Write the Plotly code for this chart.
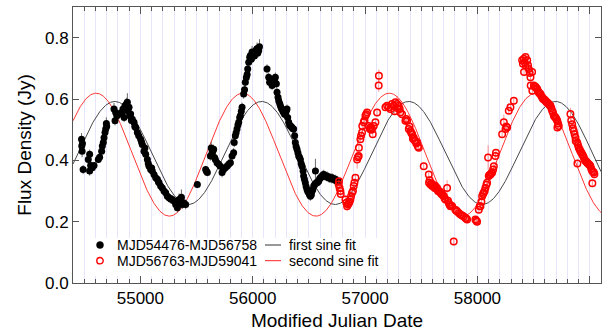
import numpy as np
import plotly.graph_objects as go

# ---- first observing period (MJD54476-MJD56758) ----
p1_mjd = [54476, 54478, 54481, 54484, 54490, 54536, 54548, 54548, 54557, 54572,
          54587, 54625, 54637, 54655, 54661, 54670, 54676, 54685, 54691, 54697,
          54700, 54765, 54774, 54780, 54790, 54810, 54833, 54845, 54855, 54863,
          54875, 54884, 54890, 54899, 54905, 54913, 54920, 54928, 54943, 54950,
          54958, 54973, 54985, 55002, 55010, 55017, 55032, 55040, 55047, 55062,
          55070, 55077, 55091, 55100, 55106, 55121, 55136, 55151, 55160, 55166,
          55180, 55195, 55210, 55225, 55240, 55255, 55269, 55284, 55299, 55314,
          55329, 55335, 55344, 55350, 55365, 55373, 55388, 55403, 55507, 55581,
          55588, 55596, 55623, 55630, 55638, 55645, 55652, 55660, 55667, 55682,
          55697, 55712, 55727, 55741, 55756, 55771, 55786, 55801, 55816, 55830,
          55835, 55845, 55852, 55860, 55868, 55875, 55884, 55890, 55898, 55905,
          55919, 55927, 55934, 55943, 55950, 55955, 55964, 55973, 55979, 55987,
          55994, 56000, 56008, 56015, 56023, 56030, 56038, 56045, 56053, 56060,
          56127, 56142, 56150, 56157, 56165, 56172, 56180, 56186, 56195, 56201,
          56210, 56216, 56225, 56231, 56240, 56246, 56255, 56260, 56268, 56275,
          56283, 56290, 56298, 56305, 56311, 56320, 56328, 56335, 56342, 56349,
          56357, 56364, 56373, 56379, 56386, 56394, 56402, 56409, 56416, 56424,
          56431, 56439, 56448, 56453, 56460, 56468, 56475, 56483, 56490, 56498,
          56505, 56513, 56522, 56528, 56535, 56543, 56550, 56558, 56565, 56573,
          56580, 56587, 56595, 56602, 56610, 56617, 56625, 56632, 56640, 56647,
          56655, 56661, 56669, 56676, 56684, 56691, 56699, 56706, 56714, 56721,
          56729, 56736, 56743, 56751, 56758]
p1_flux = [0.469, 0.447, 0.430, 0.455, 0.370, 0.403, 0.420, 0.365, 0.383, 0.376,
           0.383, 0.403, 0.410, 0.430, 0.447, 0.458, 0.474, 0.491, 0.502, 0.520,
           0.510, 0.567, 0.529, 0.556, 0.545, 0.550, 0.556, 0.567, 0.540, 0.578,
           0.584, 0.589, 0.560, 0.573, 0.545, 0.551, 0.530, 0.534, 0.524, 0.510,
           0.507, 0.491, 0.480, 0.469, 0.460, 0.452, 0.430, 0.440, 0.420, 0.403,
           0.390, 0.381, 0.370, 0.375, 0.365, 0.354, 0.343, 0.338, 0.330, 0.327,
           0.316, 0.310, 0.300, 0.294, 0.283, 0.278, 0.274, 0.272, 0.267, 0.256,
           0.245, 0.260, 0.272, 0.262, 0.280, 0.256, 0.261, 0.256, 0.321, 0.370,
           0.364, 0.360, 0.414, 0.440, 0.425, 0.430, 0.436, 0.409, 0.403, 0.392,
           0.387, 0.381, 0.360, 0.370, 0.376, 0.381, 0.387, 0.392, 0.414, 0.425,
           0.458, 0.480, 0.490, 0.502, 0.515, 0.524, 0.540, 0.545, 0.560, 0.573,
           0.616, 0.630, 0.655, 0.670, 0.680, 0.698, 0.720, 0.736, 0.742, 0.730,
           0.753, 0.745, 0.748, 0.740, 0.753, 0.760, 0.764, 0.750, 0.758, 0.770,
           0.698, 0.671, 0.655, 0.655, 0.660, 0.644, 0.650, 0.655, 0.665, 0.671,
           0.650, 0.622, 0.606, 0.594, 0.585, 0.578, 0.570, 0.567, 0.560, 0.556,
           0.550, 0.550, 0.560, 0.567, 0.540, 0.524, 0.515, 0.512, 0.510, 0.507,
           0.503, 0.502, 0.480, 0.458, 0.445, 0.436, 0.425, 0.414, 0.410, 0.403,
           0.390, 0.381, 0.365, 0.349, 0.338, 0.327, 0.315, 0.305, 0.298, 0.294,
           0.288, 0.283, 0.288, 0.300, 0.305, 0.316, 0.320, 0.365, 0.327, 0.327,
           0.330, 0.332, 0.340, 0.343, 0.345, 0.349, 0.352, 0.354, 0.350, 0.349,
           0.347, 0.349, 0.345, 0.343, 0.342, 0.343, 0.340, 0.343, 0.340, 0.338,
           0.337, 0.338, 0.335, 0.332, 0.332]
p1_err = [0.020, 0.020, 0.020, 0.015, 0.015, 0.015, 0.015, 0.015, 0.012, 0.012,
          0.012, 0.012, 0.012, 0.015, 0.015, 0.015, 0.015, 0.015, 0.015, 0.020,
          0.015, 0.020, 0.015, 0.015, 0.015, 0.015, 0.015, 0.020, 0.015, 0.020,
          0.020, 0.030, 0.015, 0.015, 0.015, 0.015, 0.015, 0.015, 0.015, 0.015,
          0.015, 0.015, 0.015, 0.015, 0.015, 0.015, 0.015, 0.015, 0.015, 0.015,
          0.015, 0.015, 0.015, 0.015, 0.015, 0.015, 0.015, 0.015, 0.015, 0.015,
          0.015, 0.015, 0.015, 0.015, 0.015, 0.015, 0.015, 0.015, 0.015, 0.015,
          0.015, 0.015, 0.020, 0.015, 0.025, 0.015, 0.015, 0.015, 0.012, 0.012,
          0.012, 0.012, 0.015, 0.020, 0.015, 0.015, 0.015, 0.015, 0.015, 0.015,
          0.015, 0.015, 0.015, 0.015, 0.015, 0.015, 0.015, 0.015, 0.015, 0.015,
          0.015, 0.015, 0.015, 0.015, 0.015, 0.015, 0.015, 0.015, 0.015, 0.015,
          0.015, 0.015, 0.015, 0.015, 0.015, 0.015, 0.015, 0.015, 0.020, 0.015,
          0.020, 0.015, 0.015, 0.015, 0.020, 0.015, 0.020, 0.015, 0.020, 0.025,
          0.015, 0.015, 0.015, 0.015, 0.015, 0.015, 0.015, 0.015, 0.015, 0.015,
          0.015, 0.015, 0.015, 0.015, 0.015, 0.015, 0.015, 0.015, 0.015, 0.015,
          0.015, 0.015, 0.015, 0.015, 0.015, 0.015, 0.015, 0.015, 0.015, 0.015,
          0.015, 0.015, 0.015, 0.015, 0.015, 0.015, 0.015, 0.015, 0.015, 0.015,
          0.015, 0.015, 0.015, 0.015, 0.015, 0.015, 0.015, 0.015, 0.015, 0.015,
          0.015, 0.015, 0.015, 0.015, 0.015, 0.015, 0.015, 0.040, 0.015, 0.015,
          0.015, 0.015, 0.015, 0.015, 0.015, 0.015, 0.015, 0.015, 0.015, 0.015,
          0.015, 0.015, 0.015, 0.015, 0.015, 0.015, 0.015, 0.015, 0.015, 0.015,
          0.015, 0.015, 0.015, 0.015, 0.015]

# ---- second observing period (MJD56763-MJD59041) ----
p2_mjd = [56765, 56768, 56773, 56780, 56783, 56825, 56833, 56840, 56848, 56855,
          56862, 56869, 56875, 56884, 56892, 56899, 56905, 56914, 56929, 56936,
          56943, 56945, 56958, 56964, 56973, 56975, 56988, 56995, 57003, 57010,
          57018, 57033, 57042, 57047, 57055, 57062, 57068, 57077, 57092, 57107,
          57121, 57123, 57181, 57196, 57210, 57225, 57240, 57255, 57262, 57270,
          57284, 57290, 57299, 57308, 57314, 57329, 57359, 57366, 57374, 57389,
          57396, 57404, 57411, 57419, 57426, 57433, 57441, 57448, 57456, 57463,
          57470, 57478, 57522, 57567, 57569, 57575, 57582, 57590, 57597, 57604,
          57611, 57619, 57626, 57634, 57641, 57649, 57656, 57664, 57671, 57679,
          57686, 57694, 57701, 57708, 57715, 57730, 57738, 57745, 57752, 57760,
          57768, 57775, 57789, 57804, 57812, 57819, 57834, 57849, 57864, 57878,
          57893, 57900, 57908, 57982, 57990, 57997, 58012, 58021, 58027, 58035,
          58042, 58050, 58056, 58064, 58071, 58080, 58086, 58095, 58101, 58108,
          58116, 58124, 58131, 58140, 58146, 58160, 58165, 58220, 58235, 58250,
          58257, 58265, 58279, 58294, 58324, 58398, 58405, 58413, 58415, 58420,
          58428, 58430, 58443, 58450, 58457, 58465, 58472, 58474, 58487, 58489,
          58502, 58510, 58517, 58525, 58532, 58540, 58547, 58554, 58561, 58569,
          58576, 58584, 58591, 58599, 58606, 58613, 58621, 58628, 58636, 58643,
          58650, 58658, 58665, 58673, 58680, 58688, 58695, 58703, 58710, 58712,
          58718, 58724, 58828, 58835, 58843, 58850, 58858, 58865, 58873, 58875,
          58888, 58890, 58895, 58902, 58910, 58917, 58925, 58932, 58940, 58947,
          58955, 58962, 58970, 58977, 58984, 58991, 58999, 59006, 59014, 59021,
          59023, 59030, 59036, 59041]
p2_flux = [0.321, 0.332, 0.310, 0.300, 0.290, 0.272, 0.262, 0.250, 0.256, 0.260,
           0.265, 0.272, 0.283, 0.294, 0.300, 0.316, 0.327, 0.343, 0.403, 0.410,
           0.414, 0.441, 0.469, 0.480, 0.491, 0.512, 0.524, 0.530, 0.545, 0.550,
           0.556, 0.512, 0.502, 0.507, 0.500, 0.502, 0.485, 0.512, 0.524, 0.556,
           0.644, 0.676, 0.573, 0.578, 0.573, 0.567, 0.584, 0.578, 0.560, 0.589,
           0.584, 0.570, 0.578, 0.567, 0.556, 0.550, 0.529, 0.535, 0.529, 0.502,
           0.510, 0.496, 0.490, 0.485, 0.470, 0.474, 0.465, 0.463, 0.455, 0.458,
           0.445, 0.441, 0.381, 0.354, 0.327, 0.335, 0.321, 0.325, 0.316, 0.320,
           0.318, 0.310, 0.316, 0.308, 0.310, 0.300, 0.300, 0.298, 0.294, 0.290,
           0.289, 0.285, 0.283, 0.276, 0.272, 0.310, 0.268, 0.261, 0.255, 0.250,
           0.252, 0.250, 0.135, 0.239, 0.236, 0.234, 0.228, 0.223, 0.220, 0.217,
           0.212, 0.210, 0.207, 0.207, 0.203, 0.200, 0.239, 0.250, 0.250, 0.265,
           0.283, 0.290, 0.294, 0.300, 0.310, 0.320, 0.327, 0.409, 0.349, 0.352,
           0.354, 0.358, 0.360, 0.370, 0.381, 0.414, 0.425, 0.485, 0.524, 0.502,
           0.510, 0.507, 0.562, 0.573, 0.594, 0.726, 0.715, 0.731, 0.688, 0.720,
           0.737, 0.709, 0.726, 0.710, 0.698, 0.685, 0.671, 0.644, 0.688, 0.627,
           0.644, 0.640, 0.640, 0.635, 0.633, 0.625, 0.620, 0.618, 0.616, 0.610,
           0.606, 0.600, 0.600, 0.597, 0.594, 0.590, 0.589, 0.585, 0.584, 0.580,
           0.578, 0.570, 0.562, 0.555, 0.545, 0.542, 0.540, 0.535, 0.529, 0.507,
           0.520, 0.512, 0.551, 0.530, 0.518, 0.505, 0.496, 0.485, 0.474, 0.463,
           0.458, 0.390, 0.450, 0.441, 0.435, 0.430, 0.425, 0.420, 0.415, 0.409,
           0.402, 0.398, 0.395, 0.392, 0.390, 0.387, 0.385, 0.381, 0.372, 0.365,
           0.325, 0.362, 0.360, 0.355]
p2_err = [0.015, 0.012, 0.012, 0.012, 0.012, 0.012, 0.012, 0.015, 0.012, 0.012,
          0.012, 0.012, 0.012, 0.012, 0.012, 0.012, 0.012, 0.012, 0.030, 0.012,
          0.012, 0.025, 0.012, 0.012, 0.015, 0.012, 0.012, 0.012, 0.015, 0.012,
          0.012, 0.012, 0.012, 0.012, 0.012, 0.015, 0.012, 0.012, 0.012, 0.012,
          0.020, 0.020, 0.012, 0.012, 0.012, 0.012, 0.012, 0.015, 0.012, 0.012,
          0.025, 0.012, 0.025, 0.012, 0.012, 0.012, 0.012, 0.012, 0.012, 0.012,
          0.012, 0.012, 0.012, 0.012, 0.012, 0.012, 0.012, 0.012, 0.012, 0.012,
          0.012, 0.012, 0.012, 0.012, 0.012, 0.012, 0.012, 0.012, 0.012, 0.012,
          0.012, 0.012, 0.012, 0.012, 0.012, 0.012, 0.012, 0.012, 0.012, 0.012,
          0.012, 0.012, 0.012, 0.012, 0.012, 0.025, 0.012, 0.012, 0.012, 0.012,
          0.012, 0.012, 0.012, 0.012, 0.012, 0.012, 0.012, 0.012, 0.012, 0.012,
          0.012, 0.012, 0.012, 0.012, 0.012, 0.012, 0.012, 0.012, 0.012, 0.012,
          0.012, 0.012, 0.012, 0.012, 0.012, 0.012, 0.012, 0.040, 0.012, 0.012,
          0.012, 0.012, 0.012, 0.012, 0.012, 0.012, 0.012, 0.012, 0.025, 0.012,
          0.012, 0.012, 0.012, 0.012, 0.012, 0.012, 0.012, 0.012, 0.012, 0.012,
          0.012, 0.012, 0.012, 0.012, 0.012, 0.012, 0.012, 0.012, 0.012, 0.012,
          0.012, 0.012, 0.012, 0.012, 0.012, 0.012, 0.012, 0.012, 0.012, 0.012,
          0.012, 0.012, 0.012, 0.012, 0.012, 0.012, 0.012, 0.012, 0.012, 0.012,
          0.012, 0.012, 0.012, 0.012, 0.012, 0.012, 0.012, 0.012, 0.012, 0.012,
          0.012, 0.012, 0.020, 0.012, 0.012, 0.012, 0.012, 0.012, 0.012, 0.012,
          0.012, 0.012, 0.012, 0.012, 0.012, 0.012, 0.012, 0.012, 0.012, 0.012,
          0.012, 0.012, 0.012, 0.012, 0.012, 0.012, 0.012, 0.012, 0.012, 0.012,
          0.012, 0.012, 0.012, 0.012]

# ---- sine-fit parameters: offset, amplitude (Jy), period (d), epoch of maximum (MJD) ----
fit1 = dict(offset=0.424, amp=0.168, period=1308.0, t_max=54772.0)
fit2 = dict(offset=0.4185, amp=0.2005, period=1305.0, t_max=54605.0)

legend_labels = ["MJD54476-MJD56758", "MJD56763-MJD59041", "first sine fit", "second sine fit"]

x_range = [54400, 59100]
t_model = np.linspace(x_range[0], x_range[1], 1500)


def sine_model(t, p):
    return p["offset"] + p["amp"] * np.cos(2 * np.pi * (t - p["t_max"]) / p["period"])


FONT = "Liberation Sans, Arial, Helvetica, sans-serif"
AX = "#555555"
GRID = "#e5e5fb"
FIT1_COLOR = "#333333"
FIT2_COLOR = "#ff2020"

# plot-area geometry in pixels (used to place the legend block)
W, H = 612, 335
ML, MR, MT, MB = 73, 11, 7, 52
PW, PH = W - ML - MR, H - MT - MB


def px(x):
    return (x - ML) / PW


def py(y):
    return (H - MB - y) / PH


fig = go.Figure()

fig.add_trace(go.Scatter(
    x=t_model, y=sine_model(t_model, fit1), mode="lines",
    line=dict(color=FIT1_COLOR, width=0.9), name=legend_labels[2]))
fig.add_trace(go.Scatter(
    x=t_model, y=sine_model(t_model, fit2), mode="lines",
    line=dict(color=FIT2_COLOR, width=0.9), name=legend_labels[3]))

fig.add_trace(go.Scatter(
    x=p1_mjd, y=p1_flux, mode="markers", name=legend_labels[0],
    marker=dict(symbol="circle", size=7, color="black"),
    error_y=dict(type="data", array=p1_err, color="rgba(70,70,70,0.8)",
                 thickness=1, width=0)))
fig.add_trace(go.Scatter(
    x=p2_mjd, y=p2_flux, mode="markers", name=legend_labels[1],
    marker=dict(symbol="circle-open", size=6.5, color="red", line=dict(width=1.5)),
    error_y=dict(type="data", array=p2_err, color="rgba(255,60,60,0.55)",
                 thickness=1, width=0)))

# ---- two-column legend block on a white panel ----
row_y = [245, 260.7]
shapes = [
    dict(type="rect", xref="paper", yref="paper", x0=px(85), x1=px(382),
         y0=py(276), y1=py(238), fillcolor="white", line=dict(width=0), layer="above"),
    dict(type="circle", xref="paper", yref="paper", xsizemode="pixel", ysizemode="pixel",
         xanchor=px(100), yanchor=py(row_y[0]), x0=-3.5, x1=3.5, y0=-3.5, y1=3.5,
         fillcolor="black", line=dict(color="black", width=0.5), layer="above"),
    dict(type="circle", xref="paper", yref="paper", xsizemode="pixel", ysizemode="pixel",
         xanchor=px(100), yanchor=py(row_y[1]), x0=-3.2, x1=3.2, y0=-3.2, y1=3.2,
         fillcolor="white", line=dict(color="red", width=1.4), layer="above"),
    dict(type="line", xref="paper", yref="paper", x0=px(265), x1=px(281),
         y0=py(row_y[0]), y1=py(row_y[0]), line=dict(color=FIT1_COLOR, width=1), layer="above"),
    dict(type="line", xref="paper", yref="paper", x0=px(265), x1=px(281),
         y0=py(row_y[1]), y1=py(row_y[1]), line=dict(color=FIT2_COLOR, width=1), layer="above"),
]
annotations = []
for label, x0, y0 in [(legend_labels[0], 116, row_y[0]), (legend_labels[1], 116, row_y[1]),
                      (legend_labels[2], 288, row_y[0]), (legend_labels[3], 288, row_y[1])]:
    annotations.append(dict(text=label, xref="paper", yref="paper", x=px(x0), y=py(y0),
                            xanchor="left", yanchor="middle", showarrow=False,
                            font=dict(size=14, family=FONT, color="black"), borderpad=0))

fig.update_layout(
    width=W, height=H,
    margin=dict(l=ML, r=MR, t=MT, b=MB),
    paper_bgcolor="white", plot_bgcolor="white",
    font=dict(family=FONT, color="black"),
    showlegend=False,
    shapes=shapes, annotations=annotations,
)

fig.update_xaxes(
    range=x_range, tick0=0, dtick=1000, tickformat="d",
    ticks="inside", ticklen=7, tickcolor=AX, tickwidth=1,
    showline=True, linecolor=AX, linewidth=1, mirror="ticks",
    showgrid=True, gridcolor=GRID, gridwidth=1, zeroline=False,
    tickfont=dict(size=17, family=FONT),
    title=dict(text="Modified Julian Date", font=dict(size=19, family=FONT), standoff=6),
    minor=dict(dtick=100, tick0=0, ticks="inside", ticklen=4, tickcolor=AX,
               showgrid=True, gridcolor=GRID, gridwidth=1),
)
fig.update_yaxes(
    range=[0, 0.9], tick0=0, dtick=0.2, tickformat=".1f",
    ticks="inside", ticklen=6, tickcolor=AX, tickwidth=1,
    showline=True, linecolor=AX, linewidth=1, mirror="ticks",
    showgrid=False, zeroline=False,
    tickfont=dict(size=17, family=FONT),
    title=dict(text="Flux Density (Jy)", font=dict(size=19, family=FONT), standoff=8),
)

fig.write_html("out.html")
